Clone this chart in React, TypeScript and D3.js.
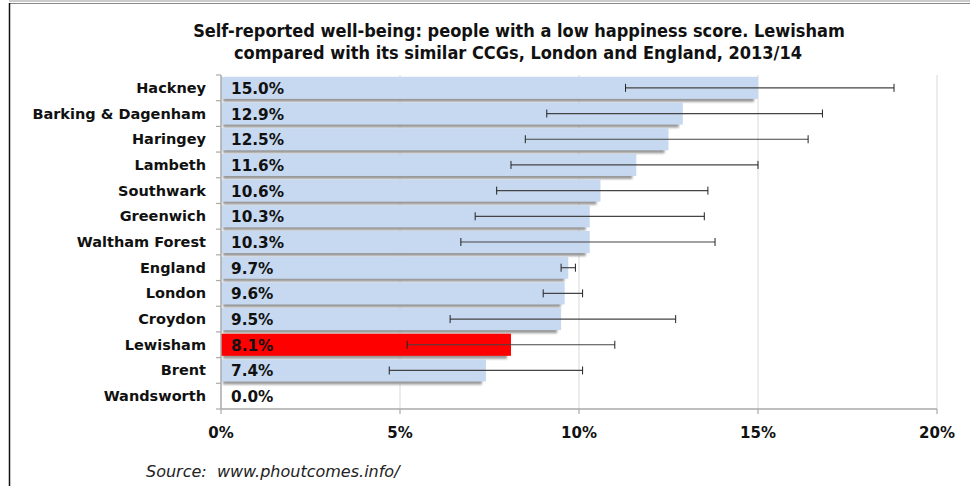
import React from "react";
import * as d3 from "d3";

const categories = ["Hackney", "Barking & Dagenham", "Haringey", "Lambeth", "Southwark", "Greenwich", "Waltham Forest", "England", "London", "Croydon", "Lewisham", "Brent", "Wandsworth"];
const values = [15.0, 12.9, 12.5, 11.6, 10.6, 10.3, 10.3, 9.7, 9.6, 9.5, 8.1, 7.4, 0.0];
const lower = [11.3, 9.1, 8.5, 8.1, 7.7, 7.1, 6.7, 9.5, 9.0, 6.4, 5.2, 4.7, null];
const upper = [18.8, 16.8, 16.4, 15.0, 13.6, 13.5, 13.8, 9.9, 10.1, 12.7, 11.0, 10.1, null];
const xTicks = [0, 5, 10, 15, 20];
const highlight = "Lewisham";

const W = 970, H = 486;
const x0 = 221, x1 = 937, yTop = 75, yBot = 409;
const font = "Verdana, 'DejaVu Sans', sans-serif";

export default function App() {
  const x = d3.scaleLinear().domain([0, 20]).range([x0, x1]);
  const y = d3.scaleBand().domain(categories).range([yTop, yBot]).paddingInner(0.14).paddingOuter(0.07);
  const step = y.step();
  const bounds = d3.range(categories.length + 1).map((i) => yTop + i * step);
  return (
    <svg width={W} height={H} style={{ position: "absolute", left: 0, top: 0, background: "#fff" }}>
      <defs>
        <filter id="fshadow" x="-5%" y="-50%" width="110%" height="200%">
          <feGaussianBlur stdDeviation="1.2" />
        </filter>
        <filter id="frameShadow" x="-5%" y="-5%" width="110%" height="110%">
          <feGaussianBlur stdDeviation="2" />
        </filter>
      </defs>
      {/* frame */}
      <line x1={6} y1={3} x2={6} y2={H} stroke="#bbb" strokeWidth={5} filter="url(#frameShadow)" />
      <line x1={9} y1={1} x2={W} y2={1} stroke="#ccc" strokeWidth={2} />
      <line x1={9} y1={3.5} x2={W} y2={3.5} stroke="#888" strokeWidth={1} />
      <line x1={9.5} y1={3} x2={9.5} y2={H} stroke="#111" strokeWidth={1.5} />

      {/* title */}
      <text x={519} y={37} textAnchor="middle" fontFamily="'DejaVu Sans Condensed', 'DejaVu Sans', sans-serif" fontWeight="bold" fontSize={18} fill="#111">
        Self-reported well-being: people with a low happiness score. Lewisham
      </text>
      <text x={518} y={59} textAnchor="middle" fontFamily="'DejaVu Sans Condensed', 'DejaVu Sans', sans-serif" fontWeight="bold" fontSize={18} fill="#111">
        compared with its similar CCGs, London and England, 2013/14
      </text>

      {/* gridlines */}
      {xTicks.slice(1).map((t) => (
        <line key={"g" + t} x1={x(t)} x2={x(t)} y1={yTop} y2={yBot} stroke="#d9d9d9" strokeWidth={1} />
      ))}

      {/* bars */}
      {categories.map((c, i) => {
        const v = values[i];
        if (v <= 0) return null;
        const by = y(c)!;
        const bh = y.bandwidth();
        const bw = x(v) - x(0);
        return (
          <g key={c}>
            <rect x={x(0) + 2} y={by + 3} width={Math.max(0, bw - 6)} height={bh} fill="#999" filter="url(#fshadow)" />
            <rect x={x(0)} y={by} width={bw} height={bh} fill={c === highlight ? "#ff0000" : "#c6d9f0"} />
          </g>
        );
      })}

      {/* error bars */}
      {categories.map((c, i) => {
        const lo = lower[i], hi = upper[i];
        if (lo == null || hi == null) return null;
        const cy = y(c)! + y.bandwidth() / 2;
        return (
          <g key={"e" + c} stroke="#222" strokeWidth={1}>
            <line x1={x(lo)} x2={x(hi)} y1={cy} y2={cy} stroke="#444" strokeWidth={1.2} />
            <line x1={x(lo)} x2={x(lo)} y1={cy - 4} y2={cy + 4} />
            <line x1={x(hi)} x2={x(hi)} y1={cy - 4} y2={cy + 4} />
          </g>
        );
      })}

      {/* y axis */}
      <line x1={x0} x2={x0} y1={yTop} y2={yBot} stroke="#aaa" strokeWidth={1.5} />
      {bounds.map((b, i) => (
        <line key={"yt" + i} x1={x0 - 5} x2={x0} y1={b} y2={b} stroke="#aaa" strokeWidth={1.2} />
      ))}
      {/* x axis */}
      <line x1={x0} x2={x1} y1={yBot} y2={yBot} stroke="#aaa" strokeWidth={1.5} />
      {xTicks.map((t) => (
        <g key={"xt" + t}>
          <line x1={x(t)} x2={x(t)} y1={yBot} y2={yBot + 5} stroke="#aaa" strokeWidth={1.2} />
          <text x={x(t)} y={yBot + 29} textAnchor="middle" fontFamily={font} fontWeight="bold" fontSize={15} fill="#111">
            {t}%
          </text>
        </g>
      ))}

      {/* category labels & values */}
      {categories.map((c, i) => {
        const cy = y(c)! + y.bandwidth() / 2;
        return (
          <g key={"l" + c}>
            <text x={206} y={cy + 5} textAnchor="end" fontFamily={font} fontWeight="bold" fontSize={14.5} fill="#111">
              {c}
            </text>
            <text x={231} y={cy + 6} fontFamily={font} fontWeight="bold" fontSize={15.3} fill="#111">
              {values[i].toFixed(1)}%
            </text>
          </g>
        );
      })}

      {/* source */}
      <text x={146} y={477} fontFamily={font} fontStyle="italic" fontSize={16} fill="#222">
        Source:{"\u00a0\u00a0"}www.phoutcomes.info/
      </text>
    </svg>
  );
}
